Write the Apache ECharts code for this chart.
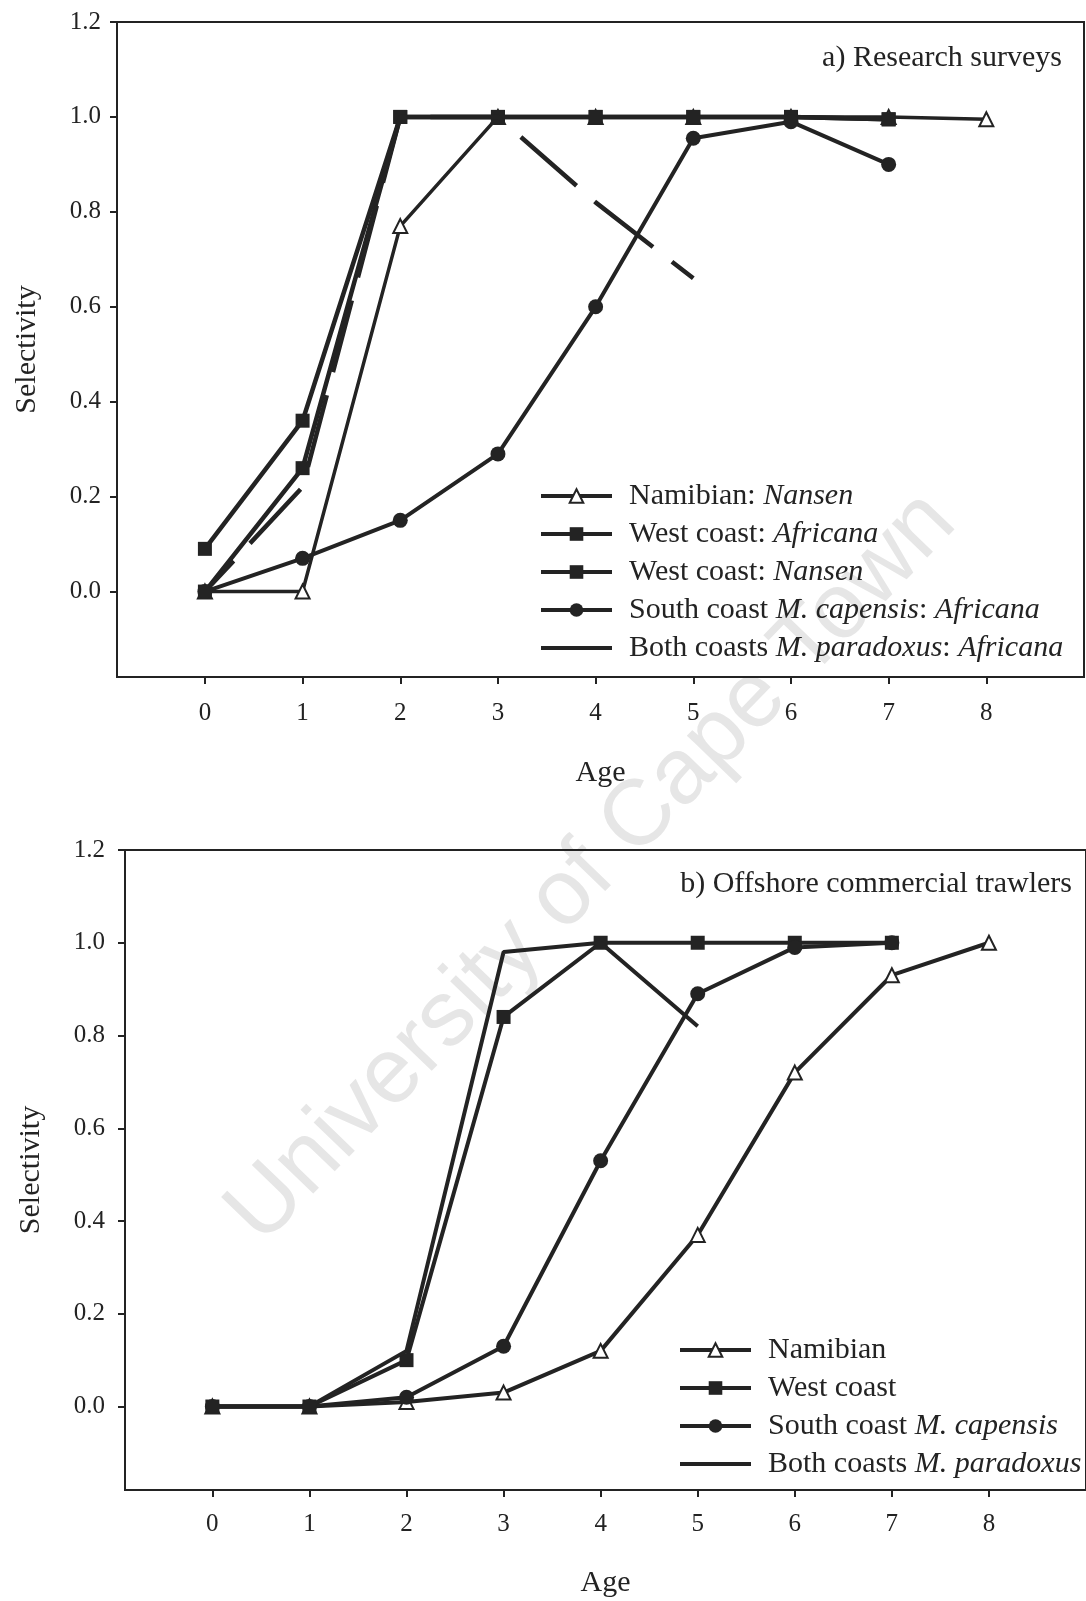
<!DOCTYPE html>
<html>
<head>
<meta charset="utf-8">
<script src="https://cdn.jsdelivr.net/npm/echarts@6/dist/echarts.min.js"></script>
<style>
html,body{margin:0;padding:0;background:#fff;}
#main{width:1086px;height:1601px;}
</style>
</head>
<body>
<div id="main"></div>
<script>
// ---- data ----
const ages = [0, 1, 2, 3, 4, 5, 6, 7, 8];
const xTickValues = [0, 1, 2, 3, 4, 5, 6, 7, 8];
const yTickValues = [0, 0.2, 0.4, 0.6, 0.8, 1.0, 1.2];

// a) Research surveys
const aNamibianNansen  = [0.0, 0.0, 0.77, 1.0, 1.0, 1.0, 1.0, 1.0, 0.995];
const aWestAfricana    = [0.09, 0.36, 1.0, 1.0, 1.0, 1.0, 1.0, 0.995];
const aWestNansen      = [0.0, 0.26, 1.0, 1.0, 1.0, 1.0, 1.0, 0.995];
const aSouthCapensis   = [0.0, 0.07, 0.15, 0.29, 0.60, 0.955, 0.99, 0.90];
const aBothParadoxus   = [0.0, 0.22, 1.0, 1.0, 0.82, 0.66];

// b) Offshore commercial trawlers
const bNamibian        = [0.0, 0.0, 0.01, 0.03, 0.12, 0.37, 0.72, 0.93, 1.0];
const bWest            = [0.0, 0.0, 0.10, 0.84, 1.0, 1.0, 1.0, 1.0];
const bSouthCapensis   = [0.0, 0.0, 0.02, 0.13, 0.53, 0.89, 0.99, 1.0];
const bBothParadoxus   = [0.0, 0.0, 0.12, 0.98, 1.0, 0.82];

const pairs = vals => vals.map((v, i) => [ages[i], v]);

const INK = '#232323';
const SERIF = '"Liberation Serif", "Times New Roman", serif';

const richStyles = {
  n: {fontFamily: SERIF, fontSize: 30, color: INK},
  i: {fontFamily: SERIF, fontSize: 30, color: INK, fontStyle: 'italic'}
};

const legendText = {
  'Namibian: Nansen': '{n|Namibian: }{i|Nansen}',
  'West coast: Africana': '{n|West coast: }{i|Africana}',
  'West coast: Nansen': '{n|West coast: }{i|Nansen}',
  'South coast M. capensis: Africana': '{n|South coast }{i|M. capensis}{n|: }{i|Africana}',
  'Both coasts M. paradoxus: Africana': '{n|Both coasts }{i|M. paradoxus}{n|: }{i|Africana}',
  'Namibian': '{n|Namibian}',
  'West coast': '{n|West coast}',
  'South coast M. capensis': '{n|South coast }{i|M. capensis}',
  'Both coasts M. paradoxus': '{n|Both coasts }{i|M. paradoxus}'
};

function xAxisDef(gridIndex, nameGap, labelMargin) {
  return {
    type: 'value', gridIndex: gridIndex, min: -0.9, max: 9,
    name: 'Age', nameLocation: 'middle', nameGap: nameGap,
    nameTextStyle: {fontFamily: SERIF, fontSize: 30, color: INK},
    axisLine: {show: true, onZero: false, lineStyle: {color: INK, width: 2}},
    axisTick: {show: true, inside: false, length: 7, lineStyle: {color: INK, width: 2}, customValues: xTickValues},
    axisLabel: {show: true, margin: labelMargin, fontFamily: SERIF, fontSize: 25, color: INK,
      customValues: xTickValues, formatter: v => String(Math.round(v))},
    splitLine: {show: false}
  };
}
function yAxisDef(gridIndex, nameGap, labelMargin) {
  return {
    type: 'value', gridIndex: gridIndex, min: -0.18, max: 1.2,
    name: 'Selectivity', nameLocation: 'middle', nameGap: nameGap,
    nameTextStyle: {fontFamily: SERIF, fontSize: 30, color: INK},
    axisLine: {show: true, onZero: false, lineStyle: {color: INK, width: 2}},
    axisTick: {show: true, inside: false, length: 7, lineStyle: {color: INK, width: 2}, customValues: yTickValues},
    axisLabel: {show: true, margin: labelMargin, fontFamily: SERIF, fontSize: 25, color: INK,
      customValues: yTickValues, formatter: v => Number(v).toFixed(1)},
    splitLine: {show: false}
  };
}

function triSeries(name, idx, vals, lw) {
  return {
    name: name, type: 'line', xAxisIndex: idx, yAxisIndex: idx, data: pairs(vals),
    symbol: 'triangle', symbolSize: 14, z: 2,
    lineStyle: {color: INK, width: lw},
    itemStyle: {color: '#ffffff', borderColor: INK, borderWidth: 2},
    emphasis: {disabled: true}, animation: false
  };
}
function fillSeries(name, idx, vals, sym, size, lw, z) {
  return {
    name: name, type: 'line', xAxisIndex: idx, yAxisIndex: idx, data: pairs(vals),
    symbol: sym, symbolSize: size, z: z,
    lineStyle: {color: INK, width: lw},
    itemStyle: {color: INK, borderWidth: 0},
    emphasis: {disabled: true}, animation: false
  };
}
function plainSeries(name, idx, vals, lw, dash, z) {
  return {
    name: name, type: 'line', xAxisIndex: idx, yAxisIndex: idx, data: pairs(vals),
    symbol: 'none', z: z,
    lineStyle: {color: INK, width: lw, type: dash || 'solid', dashOffset: 32},
    itemStyle: {color: INK},
    emphasis: {disabled: true}, animation: false
  };
}

const legendBase = {
  orient: 'vertical', itemWidth: 71, itemHeight: 17, itemGap: 8, padding: 0,
  selectedMode: false,
  lineStyle: {width: 4, color: INK},
  textStyle: {fontFamily: SERIF, fontSize: 30, color: INK, lineHeight: 30, padding: [0, 0, 0, 12], rich: richStyles},
  formatter: name => legendText[name] || name
};
const noMarker = name => ({name: name, itemStyle: {opacity: 0}, lineStyle: {type: 'solid', width: 4}});

const chart = echarts.init(document.getElementById('main'), null, {renderer: 'canvas'});
chart.setOption({
  backgroundColor: '#ffffff',
  animation: false,
  grid: [
    {left: 117, right: 2, top: 22, bottom: 924, show: true, borderColor: INK, borderWidth: 2, containLabel: false},
    {left: 125, right: -8, top: 850, bottom: 111, show: true, borderColor: INK, borderWidth: 2, containLabel: false}
  ],
  xAxis: [xAxisDef(0, 81, 24), xAxisDef(1, 78, 22)],
  yAxis: [yAxisDef(0, 75, 16), yAxisDef(1, 79, 20)],
  legend: [
    Object.assign({}, legendBase, {left: 539, top: 481,
      data: ['Namibian: Nansen', 'West coast: Africana', 'West coast: Nansen',
             'South coast M. capensis: Africana', noMarker('Both coasts M. paradoxus: Africana')]}),
    Object.assign({}, legendBase, {left: 678, top: 1335,
      data: ['Namibian', 'West coast', 'South coast M. capensis', noMarker('Both coasts M. paradoxus')]})
  ],
  graphic: [
    {type: 'text', x: 592, y: 868, rotation: 46 * Math.PI / 180, z: -10, silent: true,
      style: {text: 'University of Cape Town', align: 'center', verticalAlign: 'middle',
        font: '93px "Liberation Sans", Arial, sans-serif', fill: '#e6e6e6'}},
    {type: 'text', x: 1062, y: 58, z: 10, silent: true,
      style: {text: 'a) Research surveys', align: 'right', verticalAlign: 'middle',
        font: '30px ' + SERIF, fill: INK}},
    {type: 'text', x: 1072, y: 884, z: 10, silent: true,
      style: {text: 'b) Offshore commercial trawlers', align: 'right', verticalAlign: 'middle',
        font: '30px ' + SERIF, fill: INK}}
  ],
  series: [
    triSeries('Namibian: Nansen', 0, aNamibianNansen, 3.5),
    fillSeries('West coast: Africana', 0, aWestAfricana, 'rect', 14, 4.5, 3),
    fillSeries('West coast: Nansen', 0, aWestNansen, 'rect', 14, 4.5, 3),
    fillSeries('South coast M. capensis: Africana', 0, aSouthCapensis, 'circle', 15, 4, 4),
    plainSeries('Both coasts M. paradoxus: Africana', 0, aBothParadoxus, 4.5, [74, 24], 4),

    triSeries('Namibian', 1, bNamibian, 4),
    fillSeries('West coast', 1, bWest, 'rect', 14, 4, 3),
    fillSeries('South coast M. capensis', 1, bSouthCapensis, 'circle', 15, 4, 4),
    plainSeries('Both coasts M. paradoxus', 1, bBothParadoxus, 4, 'solid', 4)
  ]
});
</script>
</body>
</html>
